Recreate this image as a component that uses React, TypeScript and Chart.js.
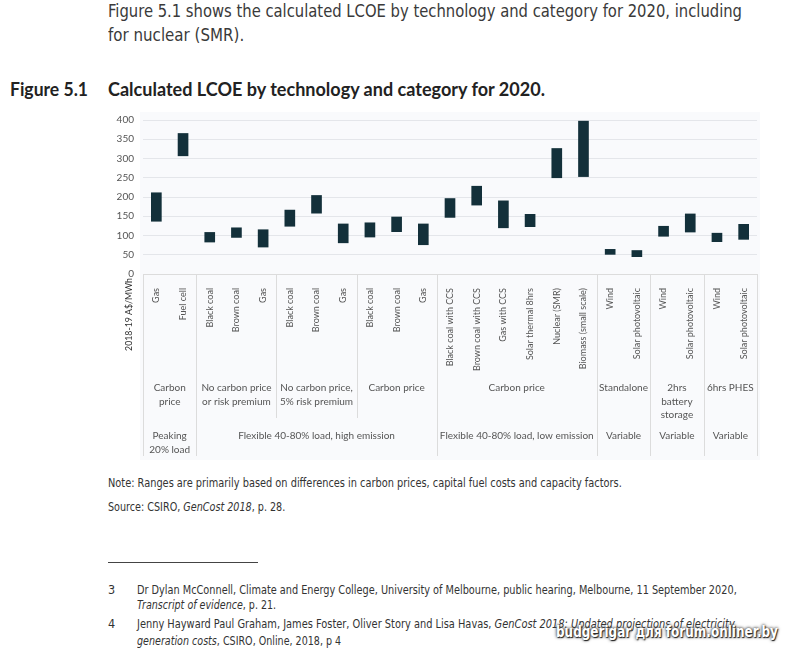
import React, { useEffect, useLayoutEffect, useRef } from "react";
import { Chart, registerables } from "chart.js";

Chart.register(...registerables);

const categories = [
  "Gas", "Fuel cell",
  "Black coal", "Brown coal", "Gas",
  "Black coal", "Brown coal", "Gas",
  "Black coal", "Brown coal", "Gas",
  "Black coal with CCS", "Brown coal with CCS", "Gas with CCS", "Solar thermal 8hrs", "Nuclear (SMR)", "Biomass (small scale)",
  "Wind", "Solar photovoltaic",
  "Wind", "Solar photovoltaic",
  "Wind", "Solar photovoltaic",
];
const lowValues = [137, 307, 83, 95, 70, 124, 158, 81, 96, 110, 76, 147, 179, 120, 123, 250, 253, 51, 45, 98, 109, 84, 90];
const highValues = [211, 365, 108, 120, 115, 166, 204, 130, 133, 148, 130, 196, 228, 190, 155, 326, 397, 64, 61, 124, 156, 106, 129];

const yTicks = [0, 50, 100, 150, 200, 250, 300, 350, 400];
const yTitle = "2018-19 A$/MWh";

const subGroupLabels = [
  ["Carbon", "price"],
  ["No carbon price", "or risk premium"],
  ["No carbon price,", "5% risk premium"],
  ["Carbon price"],
  ["Carbon price"],
  ["Standalone"],
  ["2hrs", "battery", "storage"],
  ["6hrs PHES"],
];
const subGroupSizes = [2, 3, 3, 3, 6, 2, 2, 2];
const mainGroupLabels = [
  ["Peaking", "20% load"],
  ["Flexible 40-80% load, high emission"],
  ["Flexible 40-80% load, low emission"],
  ["Variable"],
  ["Variable"],
  ["Variable"],
];
const mainGroupSizes = [2, 9, 6, 2, 2, 2];

const CHART_FONT = "Lato, Carlito, 'Open Sans', sans-serif";
const TEXT_FONT = "'Liberation Sans Narrow', 'DejaVu Sans Condensed', sans-serif";

const tablePlugin = {
  id: "lcoeTable",
  beforeDraw(chart: any) {
    const ctx = chart.ctx;
    const { left, right, top } = chart.chartArea;
    ctx.save();
    ctx.fillStyle = "#f9fafc";
    ctx.fillRect(left - 3, top - 8, right - left + 6, 355 - (top - 8));
    ctx.restore();
  },
  afterDraw(chart: any) {
    const ctx = chart.ctx;
    const xs = chart.scales.x;
    const { left, right, bottom } = chart.chartArea;
    const n = categories.length;
    const edge = (i: number) =>
      i <= 0 ? left : i >= n ? right : (xs.getPixelForValue(i - 1) + xs.getPixelForValue(i)) / 2;
    const subBottom = 313;
    const mainBottom = 351;
    ctx.save();
    ctx.strokeStyle = "#dcdcdc";
    ctx.lineWidth = 1;
    ctx.beginPath();
    ctx.moveTo(left, bottom + 0.5);
    ctx.lineTo(right, bottom + 0.5);
    ctx.stroke();
    const mainB = new Set<number>();
    let c = 0;
    mainB.add(0);
    mainGroupSizes.forEach((s) => { c += s; mainB.add(c); });
    const subB: number[] = [0];
    c = 0;
    subGroupSizes.forEach((s) => { c += s; subB.push(c); });
    subB.forEach((b) => {
      const x = Math.round(edge(b)) + 0.5;
      ctx.beginPath();
      ctx.moveTo(x, bottom);
      ctx.lineTo(x, mainB.has(b) ? mainBottom : subBottom);
      ctx.stroke();
    });
    ctx.fillStyle = "#555";
    ctx.font = `10px ${CHART_FONT}`;
    ctx.textAlign = "center";
    ctx.textBaseline = "middle";
    let start = 0;
    subGroupLabels.forEach((lines, gi) => {
      const end = start + subGroupSizes[gi];
      const cx = (edge(start) + edge(end)) / 2;
      lines.forEach((t, li) => ctx.fillText(t, cx, 283 + li * 13.5));
      start = end;
    });
    start = 0;
    mainGroupLabels.forEach((lines, gi) => {
      const end = start + mainGroupSizes[gi];
      const cx = (edge(start) + edge(end)) / 2;
      lines.forEach((t, li) => ctx.fillText(t, cx, 331 + li * 13.5));
      start = end;
    });
    // y-axis title, placed in the label band below zero as in the source figure
    ctx.fillStyle = "#333";
    ctx.font = `9px ${CHART_FONT}`;
    const w9 = ctx.measureText(yTitle).width || 73;
    const size = Math.min(9.5, (9 * 73) / w9);
    ctx.font = `${size}px ${CHART_FONT}`;
    ctx.textAlign = "right";
    ctx.translate(left - 14, bottom + 4);
    ctx.rotate(-Math.PI / 2);
    ctx.fillText(yTitle, 0, 0);
    ctx.restore();
  },
};

function LcoeChart() {
  const ref = useRef<HTMLCanvasElement | null>(null);
  useEffect(() => {
    if (!ref.current) return;
    const chart = new Chart(ref.current, {
      type: "bar",
      data: {
        labels: categories,
        datasets: [
          {
            data: categories.map((_, i) => [lowValues[i], highValues[i]]) as any,
            backgroundColor: "#13303a",
            borderWidth: 0,
            barThickness: 10,
          },
        ],
      },
      options: {
        animation: false,
        responsive: false,
        layout: { padding: { top: 13, right: 13, left: 0, bottom: 0 } },
        plugins: { legend: { display: false }, tooltip: { enabled: false } },
        scales: {
          x: {
            grid: { display: false },
            border: { display: false },
            ticks: {
              maxRotation: 90,
              minRotation: 90,
              autoSkip: false,
              padding: 6,
              color: "#555",
              font: { family: CHART_FONT, size: 9 },
            },
            afterFit(scale: any) {
              scale.height = 191;
            },
          },
          y: {
            min: 0,
            max: 400,
            afterBuildTicks(scale: any) {
              scale.ticks = yTicks.map((v) => ({ value: v }));
            },
            grid: { color: "#e4e6ea", drawTicks: false },
            border: { display: false },
            ticks: {
              padding: 9,
              color: "#555",
              font: { family: CHART_FONT, size: 10 },
            },
            afterFit(scale: any) {
              scale.width = 43;
            },
          },
        },
      },
      plugins: [tablePlugin],
    });
    return () => chart.destroy();
  }, []);
  return (
    <canvas
      ref={ref}
      width={670}
      height={360}
      style={{ position: "absolute", left: 100, top: 105, width: 670, height: 360 }}
    />
  );
}

// A line of text horizontally squeezed/stretched to span a given width
function Fit(props: { left: number; top: number; width: number; style: React.CSSProperties; children: React.ReactNode }) {
  const ref = useRef<HTMLSpanElement | null>(null);
  useLayoutEffect(() => {
    const el = ref.current;
    if (!el) return;
    el.style.transform = "none";
    const w = el.offsetWidth;
    if (w > 0) el.style.transform = `scaleX(${props.width / w})`;
  });
  return (
    <span
      ref={ref}
      style={{
        position: "absolute",
        left: props.left,
        top: props.top,
        whiteSpace: "nowrap",
        display: "inline-block",
        transformOrigin: "0 0",
        ...props.style,
      }}
    >
      {props.children}
    </span>
  );
}

export default function App() {
  const para: React.CSSProperties = { fontFamily: TEXT_FONT, color: "#3a3a3a", fontSize: 17, lineHeight: "24px" };
  const small: React.CSSProperties = { fontFamily: TEXT_FONT, color: "#333", fontSize: 12.5, lineHeight: "16px" };
  const head: React.CSSProperties = { fontFamily: "Lato, sans-serif", fontWeight: 700, fontSize: 18, lineHeight: "22px", color: "#222" };
  return (
    <div style={{ position: "absolute", left: 0, top: 0, width: 800, height: 656, background: "#fff", overflow: "hidden" }}>
      <Fit left={108} top={-1} width={634} style={para}>
        Figure 5.1 shows the calculated LCOE by technology and category for 2020, including
      </Fit>
      <Fit left={108} top={23} width={136} style={para}>
        for nuclear (SMR).
      </Fit>
      <Fit left={10} top={78} width={78} style={head}>
        Figure 5.1
      </Fit>
      <Fit left={108} top={78} width={437} style={head}>
        Calculated LCOE by technology and category for 2020.
      </Fit>
      <LcoeChart />
      <Fit left={108} top={475} width={514} style={small}>
        Note: Ranges are primarily based on differences in carbon prices, capital fuel costs and capacity factors.
      </Fit>
      <Fit left={108} top={499} width={177} style={small}>
        Source: CSIRO, <i>GenCost 2018</i>, p. 28.
      </Fit>
      <div style={{ position: "absolute", left: 108, top: 562, width: 150, height: 1, background: "#444" }} />
      <div style={{ ...small, position: "absolute", left: 108, top: 582 }}>3</div>
      <Fit left={137} top={582} width={600} style={small}>
        Dr Dylan McConnell, Climate and Energy College, University of Melbourne, public hearing, Melbourne, 11 September 2020,
      </Fit>
      <Fit left={137} top={597} width={139} style={small}>
        <i>Transcript of evidence</i>, p. 21.
      </Fit>
      <div style={{ ...small, position: "absolute", left: 108, top: 616 }}>4</div>
      <Fit left={137} top={616} width={598} style={small}>
        Jenny Hayward Paul Graham, James Foster, Oliver Story and Lisa Havas, <i>GenCost 2018: Updated projections of electricity</i>
      </Fit>
      <Fit left={137} top={633} width={204} style={small}>
        <i>generation costs</i>, CSIRO, Online, 2018, p 4
      </Fit>
      <Fit
        left={556}
        top={623}
        width={222}
        style={{
          fontFamily: "'DejaVu Sans', sans-serif",
          fontWeight: 700,
          fontSize: 15,
          lineHeight: "18px",
          color: "#fff",
          textShadow: "1px 1px 1px #222, 0 0 3px #444, 0 0 4px #666",
        }}
      >
        budgerigar для forum.onliner.by
      </Fit>
    </div>
  );
}
